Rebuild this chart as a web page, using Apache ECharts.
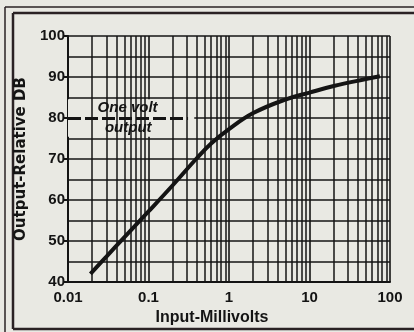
<!DOCTYPE html>
<html>
<head>
<meta charset="utf-8">
<script src="https://cdn.jsdelivr.net/npm/echarts@6/dist/echarts.min.js"></script>
<style>
    html, body { margin: 0; padding: 0; background: #e9e9e3; }
    #chart { width: 414px; height: 332px; }
</style>
</head>
<body>
<div id="chart"></div>
<script>
// input (mV) vs output (dB)
const inputMv = [0.019, 0.03, 0.05, 0.1, 0.2, 0.39, 0.6, 1, 2, 5, 10, 20, 50, 75]
const outputDb = [42, 46.2, 50.9, 57.2, 63.6, 70, 73.8, 77.3, 81.2, 84.5, 86.2, 87.8, 89.5, 90.2]

const xTickLabels = ['0.01', '0.1', '1', '10', '100']
const yTickLabels = ['40', '50', '60', '70', '80', '90', '100']

// log-paper minor rulings (2..9 of every decade)
const minorX = [
    0.02, 0.03, 0.04, 0.05, 0.06, 0.07, 0.08, 0.09,
    0.2, 0.3, 0.4, 0.5, 0.6, 0.7, 0.8, 0.9,
    2, 3, 4, 5, 6, 7, 8, 9,
    20, 30, 40, 50, 60, 70, 80, 90,
]

// "One volt output" reference level
const refLevel = 80
const refBoxX = [0.01, 0.37]
const refBoxY = [75.4, 84.6]
const refLineEnd = 0.31
const refTextTop = { x: 0.055, y: 82.5, text: 'One volt' }
const refTextBottom = { x: 0.056, y: 77.6, text: 'output' }

const ink = '#141414'
const paper = '#e9e9e3'
const gridLine = { color: ink, width: 1.6 }

const chart = echarts.init(document.getElementById('chart'))

const frame = (x1, y1, x2, y2, w) => ({
    type: 'line',
    shape: { x1, y1, x2, y2 },
    style: { stroke: '#2a2224', lineWidth: w },
    silent: true,
})

chart.setOption({
    backgroundColor: paper,
    animation: false,
    textStyle: { fontFamily: 'Liberation Sans, Arial, sans-serif' },
    grid: { left: 68, right: 24, top: 36, bottom: 50 },
    graphic: [
        frame(5, 7, 414, 7, 1.5),
        frame(5, 7, 5, 332, 1.5),
        frame(13, 13, 414, 13, 2.5),
        frame(13, 13, 13, 329, 2.5),
        frame(13, 329, 414, 329, 2.5),
    ],
    xAxis: {
        type: 'log',
        logBase: 10,
        min: 0.01,
        max: 100,
        name: 'Input-Millivolts',
        nameLocation: 'middle',
        nameGap: 26,
        nameTextStyle: {
            color: ink, fontSize: 16, fontWeight: 'bold',
            padding: [0, 34, 0, 0],
        },
        axisLine: { show: true, lineStyle: { color: ink, width: 2 } },
        axisTick: { show: false },
        axisLabel: {
            color: ink, fontSize: 15, fontWeight: 'bold', margin: 8,
            formatter: (v, i) => xTickLabels[i] ?? '',
        },
        splitLine: { show: true, lineStyle: gridLine },
    },
    yAxis: {
        type: 'value',
        min: 40,
        max: 100,
        interval: 10,
        name: 'Output-Relative DB',
        nameLocation: 'middle',
        nameGap: 29,
        nameTextStyle: {
            color: ink, fontSize: 15, fontWeight: 'bold',
            fontFamily: 'DejaVu Sans',
        },
        axisLine: { show: true, lineStyle: { color: ink, width: 2 } },
        axisTick: { show: true, length: 5, lineStyle: { color: ink, width: 2 } },
        axisLabel: {
            color: ink, fontSize: 15, fontWeight: 'bold', margin: 3,
            formatter: (v, i) => yTickLabels[i] ?? '',
        },
        splitLine: { show: true, lineStyle: gridLine },
        minorTick: { show: false, splitNumber: 2 },
        minorSplitLine: { show: true, lineStyle: gridLine },
    },
    series: [
        {
            // minor vertical rulings of the log paper
            type: 'line',
            data: [],
            z: 1,
            silent: true,
            markLine: {
                silent: true,
                symbol: 'none',
                label: { show: false },
                lineStyle: { color: ink, width: 1.5, type: 'solid' },
                data: minorX.map(v => ({ xAxis: v })),
            },
        },
        {
            // blank box with the one-volt reference mark
            type: 'line',
            data: [],
            z: 3,
            silent: true,
            markArea: {
                silent: true,
                itemStyle: { color: paper },
                data: [[
                    { coord: [refBoxX[0], refBoxY[0]] },
                    { coord: [refBoxX[1], refBoxY[1]] },
                ]],
            },
            markLine: {
                silent: true,
                symbol: 'none',
                label: { show: false },
                lineStyle: { color: ink, width: 3, type: [13, 4] },
                data: [[
                    { coord: [refBoxX[0], refLevel] },
                    { coord: [refLineEnd, refLevel] },
                ]],
            },
            markPoint: {
                silent: true,
                symbol: 'circle',
                symbolSize: 0,
                label: {
                    show: true, position: 'inside',
                    color: ink, fontSize: 15, fontStyle: 'italic', fontWeight: 'bold',
                    formatter: p => p.name,
                },
                data: [refTextTop, refTextBottom].map(t => ({
                    name: t.text, coord: [t.x, t.y],
                })),
            },
        },
        {
            name: 'Output',
            type: 'line',
            z: 5,
            smooth: 0.4,
            showSymbol: false,
            lineStyle: { color: ink, width: 4 },
            data: inputMv.map((x, i) => [x, outputDb[i]]),
        },
    ],
})
</script>
</body>
</html>
